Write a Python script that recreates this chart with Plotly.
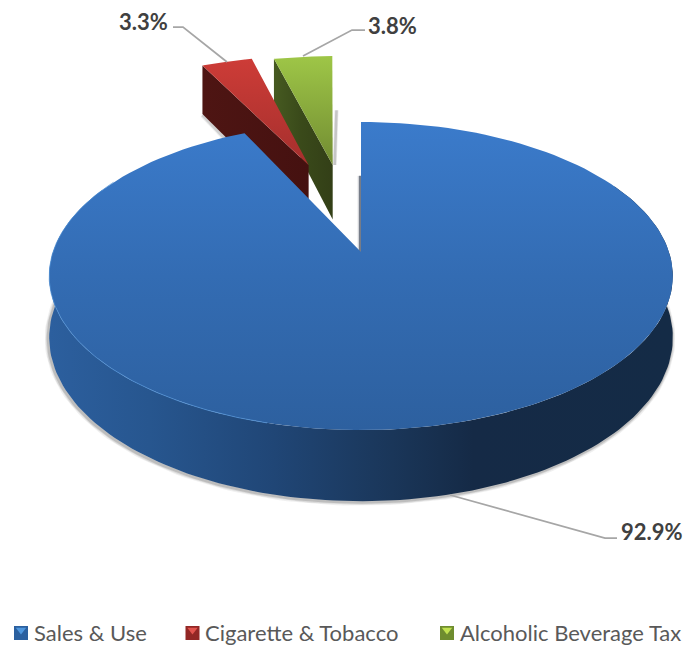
import numpy as np
import plotly.graph_objects as go

# Revenue shares, in percent
categories = ["Sales & Use", "Cigarette & Tobacco", "Alcoholic Beverage Tax"]
shares = [92.9, 3.3, 3.8]
key_base = ["#2B609F", "#922725", "#6F8D2F"]
key_glint = ["#4F97DE", "#E2544E", "#C2E250"]

# Perspective projection of the pie disc onto the page (pixels)
CX, CY = 361.0, 252.0
RX, RY = 308.0, 150.3
PERSP = 0.156
THICK = 60.0

# Exploded offset of each slice in disc units: outer arc and inner tip
RIM_OFFSETS = [(0.0, 0.0), (-0.207, 0.636), (-0.117, 0.636)]
TIP_OFFSETS = [(0.0, 0.0), (-0.187, 0.636), (-0.101, 0.636)]

# Placement of the legend row and its text columns
LEGEND_Y = 632
LEGEND_TEXT_X = [31.5, 202.5, 458]
LEGEND_KEY_X = [21, 192.5, 447]


def project(x, y, depth=0.0):
    x, y = np.asarray(x, float), np.asarray(y, float)
    w = 1 + PERSP * y
    return CX + RX * x / w, CY + (-RY * y + depth) / w


def rim(a0, a1, off=(0, 0), depth=0.0, n=160):
    t = np.radians(np.linspace(a0, a1, n))
    return project(np.sin(t) + off[0], np.cos(t) + off[1], depth)


edges = np.cumsum([0] + shares) / sum(shares) * 360.0
fig = go.Figure()


def poly(xs, ys, kind=None, stops=None):
    fig.add_trace(go.Scatter(x=list(xs), y=list(ys), mode="lines", fill="toself", line=dict(width=0),
                             hoverinfo="skip", showlegend=False, fillcolor=stops[0][1],
                             fillgradient=dict(type=kind, colorscale=stops)))


def stroke(xs, ys, color, width):
    fig.add_trace(go.Scatter(x=list(xs), y=list(ys), mode="lines", hoverinfo="skip", showlegend=False,
                             line=dict(color=color, width=width)))


def radial_wall(i):
    off, tip = RIM_OFFSETS[i], TIP_OFFSETS[i]
    t = np.radians(edges[i])
    ox, oy = np.sin(t) + off[0], np.cos(t) + off[1]
    tx, ty = project([tip[0], ox], [tip[1], oy])
    bx, by = project([ox, tip[0]], [oy, tip[1]], THICK)
    return list(tx) + list(bx), list(ty) + list(by)


def wedge(i):
    off, tip = RIM_OFFSETS[i], TIP_OFFSETS[i]
    ax, ay = project(tip[0], tip[1])
    rx, ry = rim(edges[i], edges[i + 1], off)
    return [float(ax)] + list(rx) + [float(ax)], [float(ay)] + list(ry) + [float(ay)]


# Soft drop shadows under the base of the pie and the exploded slices
base_x, base_y = rim(62, 296, depth=THICK)
for w, a in [(7, 0.07), (5, 0.10), (3, 0.16)]:
    stroke(base_x - 1.0, base_y + 1.0, f"rgba(40,40,40,{a})", w)
t_red = np.radians(edges[1])
sx, sy = project([np.sin(t_red) + RIM_OFFSETS[1][0], RIM_OFFSETS[1][0] + 0.35 * np.sin(t_red)],
                 [np.cos(t_red) + RIM_OFFSETS[1][1], RIM_OFFSETS[1][1] + 0.35 * np.cos(t_red)], THICK)
for w, a in [(5, 0.08), (3, 0.15)]:
    stroke(sx, sy + 1, f"rgba(40,40,40,{a})", w)
# Shadow along the lower part of the green slice's right edge
gx, gy = project([TIP_OFFSETS[2][0] + 0.0, TIP_OFFSETS[2][0]],
                 [0.47 + TIP_OFFSETS[2][1], TIP_OFFSETS[2][1]])
for w, a in [(4, 0.10), (2.5, 0.18)]:
    stroke(gx + 2, gy, f"rgba(40,40,40,{a})", w)

# Exploded slices: side wall first, then the top face
wx, wy = radial_wall(2)
poly(wx, wy, "horizontal", [[0, "#465A21"], [0.45, "#3A4A1A"], [1, "#333F17"]])
px, py = wedge(2)
poly(px, py, "vertical", [[0, "#728C32"], [1, "#9EC647"]])

wx, wy = radial_wall(1)
poly(wx, wy, "horizontal", [[0, "#4E1513"], [1, "#451110"]])
px, py = wedge(1)
poly(px, py, "vertical", [[0, "#A52F2D"], [1, "#CD3C37"]])

# Notch shadow on the cut face of the large slice
nx, ny = project([0, 0], [0, 0.55])
for w, a in [(5, 0.10), (3, 0.20), (1.5, 0.55)]:
    stroke(nx - 1, ny, f"rgba(20,30,50,{a})", w)

# Outer wall of the large slice
tx, ty = rim(62, 296)
bx, by = rim(296, 62, depth=THICK)
poly(list(tx) + list(bx), list(ty) + list(by), "horizontal",
     [[0, "#2C5F9E"], [0.16, "#27568F"], [0.36, "#204676"], [0.55, "#1A3659"],
      [0.68, "#152A46"], [1, "#142B46"]])

# Top face of the large slice, with a lighter rim on its left side
px, py = wedge(0)
poly(px, py, "vertical", [[0, "#2D609F"], [0.5, "#336CB3"], [1, "#3B7BCB"]])
rx, ry = rim(195, 300)
stroke(rx, ry, "rgba(80,145,215,0.75)", 1)

# Leader lines and value labels
leader_paths = [([450, 605, 617], [495, 538, 538]),
                ([173, 183, 227], [27, 27, 62]),
                ([303, 352, 365], [56, 30, 30])]
label_spots = [(652, 531), (143, 21), (392, 25)]
for (lx, ly), (ax, ay), value in zip(leader_paths, label_spots, shares):
    stroke(lx, ly, "#A6A6A6", 1.75)
    fig.add_annotation(x=ax, y=ay, text=f"<b>{value}%</b>", showarrow=False,
                       font=dict(family="Lato", size=22, color="#404040"))

# Legend row: bevelled keys with their names alongside
for name, kx, tx_, base, glint in zip(categories, LEGEND_KEY_X, LEGEND_TEXT_X, key_base, key_glint):
    fig.add_trace(go.Scatter(x=[kx], y=[LEGEND_Y + 1], mode="markers", hoverinfo="skip", showlegend=False,
                             marker=dict(symbol="square", size=14, color=base)))
    fig.add_trace(go.Scatter(x=[kx], y=[LEGEND_Y - 2], mode="markers", hoverinfo="skip", showlegend=False,
                             marker=dict(symbol="triangle-down", size=9, color=glint)))
    fig.add_annotation(x=tx_, y=LEGEND_Y, text=name, showarrow=False, xanchor="left", yanchor="middle",
                       font=dict(family="Lato", size=22, color="#595959"))

fig.update_layout(
    width=685, height=646, margin=dict(l=0, r=0, t=0, b=0),
    paper_bgcolor="white", plot_bgcolor="white", showlegend=False,
    xaxis=dict(range=[0, 685], visible=False, fixedrange=True),
    yaxis=dict(range=[646, 0], visible=False, fixedrange=True),
)

fig.write_html("out.html", config=dict(displayModeBar=False))
